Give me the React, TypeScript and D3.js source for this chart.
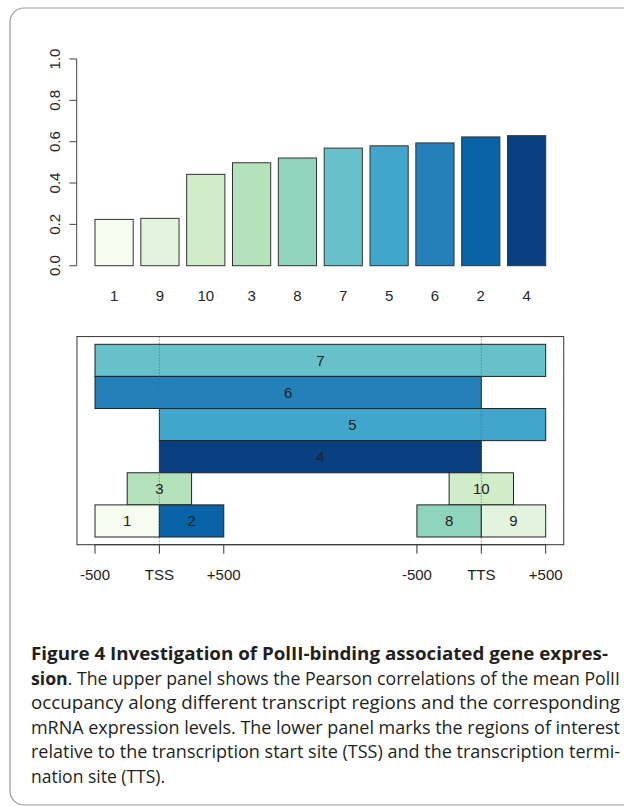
import React from "react";
import * as d3 from "d3";

// ---- Upper panel data: Pearson correlation per region, sorted ----
const barRegions = ["1", "9", "10", "3", "8", "7", "5", "6", "2", "4"];
const barValues = [0.224, 0.229, 0.442, 0.498, 0.521, 0.569, 0.58, 0.594, 0.623, 0.629];
const yTicks = [0, 0.2, 0.4, 0.6, 0.8, 1.0];
const yTickLabels = ["0.0", "0.2", "0.4", "0.6", "0.8", "1.0"];

// GnBu ramp (10 steps) in bar order
const palette = ["#f7fcf0", "#e2f4dd", "#d0edc9", "#b4e2bb", "#8fd4bd", "#67c1ca", "#42a6cc", "#2380b9", "#0864a7", "#084081"];

// ---- Lower panel data: regions relative to TSS / TTS (units of 500 bp) ----
const regionIds = ["7", "6", "5", "4", "3", "10", "1", "2", "8", "9"];
const regionStart = [-1, -1, 0, 0, -0.5, 4.5, -1, 0, 4, 5];
const regionEnd = [6, 5, 6, 5, 0.5, 5.5, 0, 1, 5, 6];
const regionRow = [5, 4, 3, 2, 1, 1, 0, 0, 0, 0];
const axisTicks = [-1, 0, 1, 4, 5, 6];
const axisTickLabels = ["-500", "TSS", "+500", "-500", "TTS", "+500"];
const refLines = [0, 5];

// ---- Caption ----
const captionLines = [
  "Figure 4 Investigation of PolII-binding associated gene expres-",
  "sion|. The upper panel shows the Pearson correlations of the mean PolII",
  "occupancy along different transcript regions and the corresponding",
  "mRNA expression levels. The lower panel marks the regions of interest",
  "relative to the transcription start site (TSS) and the transcription termi-",
  "nation site (TTS).",
];

const chartFont = "'Liberation Sans', Arial, sans-serif";
const capFont = "'Open Sans', 'Noto Sans', sans-serif";

export default function App() {
  // upper panel scales
  const xBar = d3.scaleLinear().domain([0.2, 12]).range([95, 545.7]);
  const yBar = d3.scaleLinear().domain([0, 1]).range([265.7, 59]);

  // lower panel scales
  const xReg = d3.scaleLinear().domain([-1, 6]).range([95, 545.7]);
  const yReg = d3.scaleLinear().domain([0, 6]).range([537, 344.3]);
  const colorOf = (id: string) => palette[barRegions.indexOf(id)];

  const boxL = xReg(-1.28), boxR = xReg(6.28);
  const boxT = yReg(6.24), boxB = yReg(-0.24);

  const capX = 31;
  const capBase = 660;
  const capStep = 24.6;
  const capEnds = [608, 620, 620, 620, 620, null];

  return (
    <svg width={624} height={806} style={{ position: "absolute", left: 0, top: 0, background: "#fff" }}>
      <rect x={10} y={8} width={700} height={797} rx={14} ry={14} fill="#fff" stroke="#9a9a9a" strokeWidth={1.2} />

      {/* upper panel */}
      <g fontFamily={chartFont} fontSize={15} fill="#262626">
        {barValues.map((v, i) => (
          <rect key={"b" + i}
            x={xBar(0.2 + i * 1.2)} y={yBar(v)}
            width={xBar(1.2 + i * 1.2) - xBar(0.2 + i * 1.2)}
            height={yBar(0) - yBar(v)}
            fill={palette[i]} stroke="#333" strokeWidth={1} />
        ))}
        <line x1={76.7} x2={76.7} y1={yBar(0)} y2={yBar(1)} stroke="#444" strokeWidth={1} />
        {yTicks.map((t, i) => (
          <g key={"yt" + i}>
            <line x1={69.5} x2={76.7} y1={yBar(t)} y2={yBar(t)} stroke="#444" strokeWidth={1} />
            <text transform={`translate(59.5,${yBar(t)}) rotate(-90)`} textAnchor="middle">{yTickLabels[i]}</text>
          </g>
        ))}
        {barRegions.map((r, i) => (
          <text key={"xl" + i} x={xBar(0.7 + i * 1.2)} y={300.5} textAnchor="middle">{r}</text>
        ))}
      </g>

      {/* lower panel */}
      <g fontFamily={chartFont} fontSize={15} fill="#222">
        {regionIds.map((id, i) => (
          <rect key={"r" + i}
            x={xReg(regionStart[i])} y={yReg(regionRow[i] + 1)}
            width={xReg(regionEnd[i]) - xReg(regionStart[i])}
            height={yReg(regionRow[i]) - yReg(regionRow[i] + 1)}
            fill={colorOf(id)} stroke="#222" strokeWidth={1} />
        ))}
        {refLines.map((p, i) => (
          <line key={"rl" + i} x1={xReg(p)} x2={xReg(p)} y1={boxT} y2={boxB}
            stroke="#666" strokeWidth={1} strokeDasharray="1,2" />
        ))}
        {regionIds.map((id, i) => (
          <text key={"rt" + i}
            x={xReg((regionStart[i] + regionEnd[i]) / 2)}
            y={yReg(regionRow[i] + 0.5) + 5.5}
            textAnchor="middle">{id}</text>
        ))}
        <rect x={boxL} y={boxT} width={boxR - boxL} height={boxB - boxT} fill="none" stroke="#333" strokeWidth={1} />
        <line x1={xReg(-1)} x2={xReg(6)} y1={boxB} y2={boxB} stroke="#333" strokeWidth={1} />
        {axisTicks.map((t, i) => (
          <g key={"at" + i}>
            <line x1={xReg(t)} x2={xReg(t)} y1={boxB} y2={boxB + 9} stroke="#333" strokeWidth={1} />
            <text x={xReg(t)} y={579.5} textAnchor="middle">{axisTickLabels[i]}</text>
          </g>
        ))}
      </g>

      {/* caption */}
      <g fontFamily={capFont} fontSize={17.5} fill="#231f20">
        {captionLines.map((line, i) => {
          const end = capEnds[i];
          const props: any = end ? { textLength: end - capX, lengthAdjust: "spacingAndGlyphs" } : {};
          if (i === 0) {
            return <text key={"c" + i} x={capX} y={capBase} fontWeight="bold" {...props}>{line}</text>;
          }
          if (line.includes("|")) {
            const [b, rest] = line.split("|");
            return (
              <text key={"c" + i} x={capX} y={capBase + i * capStep} {...props}>
                <tspan fontWeight="bold">{b}</tspan>
                <tspan>{rest}</tspan>
              </text>
            );
          }
          return <text key={"c" + i} x={capX} y={capBase + i * capStep} {...props}>{line}</text>;
        })}
      </g>
    </svg>
  );
}
